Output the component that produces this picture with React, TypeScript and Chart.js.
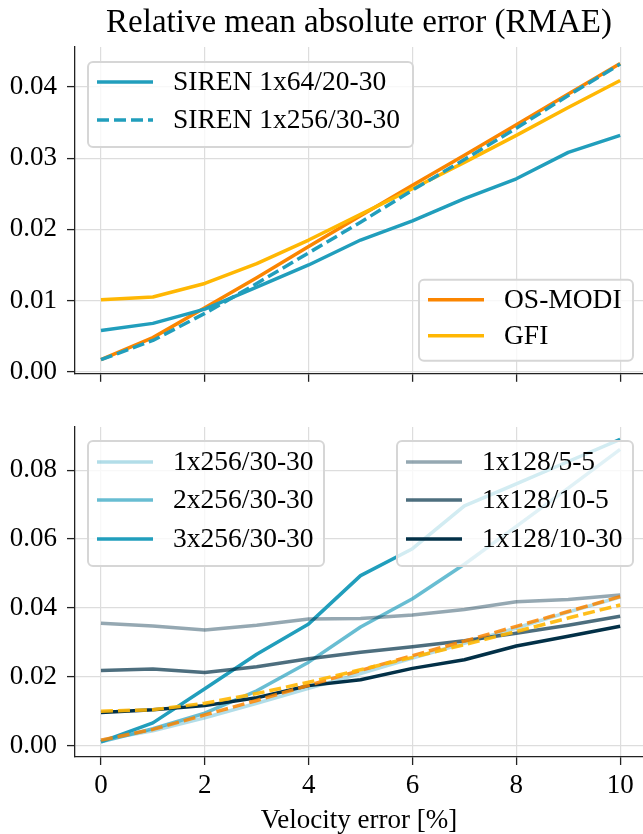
import React, { useEffect, useRef } from 'react';
import { Chart, registerables } from 'chart.js';

Chart.register(...registerables);

// ---------- data ----------
const velocityError = [0, 1, 2, 3, 4, 5, 6, 7, 8, 9, 10];
const xTicks = [0, 2, 4, 6, 8, 10];
const topYTicks = [0, 0.01, 0.02, 0.03, 0.04];
const bottomYTicks = [0, 0.02, 0.04, 0.06, 0.08];

const siren1x64 = [0.0058, 0.0068, 0.0088, 0.0119, 0.015, 0.0185, 0.0212, 0.0243, 0.0271, 0.0308, 0.0332];
const siren1x256 = [0.0017, 0.0044, 0.0082, 0.0124, 0.0167, 0.021, 0.0255, 0.0298, 0.0342, 0.0388, 0.0432];
const osModi = [0.0017, 0.0048, 0.009, 0.0132, 0.0176, 0.0219, 0.0262, 0.0304, 0.0347, 0.039, 0.0433];
const gfi = [0.0101, 0.0105, 0.0124, 0.0152, 0.0185, 0.0221, 0.0257, 0.0294, 0.0332, 0.0371, 0.0409];

const siren2x256 = [0.0012, 0.005, 0.0095, 0.016, 0.0243, 0.0345, 0.0427, 0.0527, 0.0637, 0.0748, 0.086];
const siren3x256 = [0.0012, 0.0067, 0.0166, 0.0266, 0.0354, 0.0494, 0.0572, 0.0696, 0.076, 0.0825, 0.0889];
const siren1x128_5_5 = [0.0356, 0.0348, 0.0336, 0.035, 0.0368, 0.037, 0.038, 0.0396, 0.0418, 0.0425, 0.0438];
const siren1x128_10_5 = [0.0219, 0.0223, 0.0213, 0.023, 0.0253, 0.0272, 0.0288, 0.0305, 0.0327, 0.035, 0.0376];
const siren1x128_10_30 = [0.0097, 0.0105, 0.0117, 0.014, 0.0175, 0.0192, 0.0225, 0.025, 0.029, 0.0318, 0.0347];

const titleText = 'Relative mean absolute error (RMAE)';
const xLabelText = 'Velocity error [%]';

// ---------- styles ----------
const FONT = '"Liberation Serif", "Times New Roman", serif';
const TEAL = '#219ebc';
const TEAL_35 = 'rgba(33,158,188,0.35)';
const TEAL_66 = 'rgba(33,158,188,0.68)';
const NAVY_40 = 'rgba(2,48,71,0.42)';
const NAVY_70 = 'rgba(2,48,71,0.7)';
const NAVY = '#023047';
const ORANGE = '#fb8500';
const YELLOW = '#ffb703';
const DASH = [12, 5];
const LW = 3.5;

const pts = (ys: number[]) => velocityError.map((x, i) => ({ x, y: ys[i] }));

const line = (data: number[], color: string, dash?: number[]) => ({
  data: pts(data),
  borderColor: color,
  backgroundColor: color,
  borderWidth: LW,
  borderDash: dash || [],
  pointRadius: 0,
  tension: 0,
  fill: false,
  borderCapStyle: 'butt',
  borderJoinStyle: 'round',
});

type LegendItem = { label: string; color: string; dash?: number[] };
type LegendSpec = {
  anchor: 'tl' | 'tr' | 'br';
  w: number;
  h: number;
  rows: number[];
  items: LegendItem[];
};

function roundRect(ctx: CanvasRenderingContext2D, x: number, y: number, w: number, h: number, r: number) {
  ctx.beginPath();
  ctx.moveTo(x + r, y);
  ctx.lineTo(x + w - r, y);
  ctx.arcTo(x + w, y, x + w, y + r, r);
  ctx.lineTo(x + w, y + h - r);
  ctx.arcTo(x + w, y + h, x + w - r, y + h, r);
  ctx.lineTo(x + r, y + h);
  ctx.arcTo(x, y + h, x, y + h - r, r);
  ctx.lineTo(x, y + r);
  ctx.arcTo(x, y, x + r, y, r);
  ctx.closePath();
}

function decorPlugin(legends: LegendSpec[], title: string | null, xLabel: string | null) {
  return {
    id: 'decor',
    afterDraw(chart: any) {
      const ctx: CanvasRenderingContext2D = chart.ctx;
      const ca = chart.chartArea;
      ctx.save();
      for (const lg of legends) {
        const x = lg.anchor === 'tl' ? ca.left + 13 : ca.right - 10 - lg.w;
        const y = lg.anchor === 'br' ? ca.bottom - 13 - lg.h : ca.top + (lg.anchor === 'tl' && lg.items.length === 2 ? 15 : 14);
        roundRect(ctx, x, y, lg.w, lg.h, 5);
        ctx.fillStyle = 'rgba(255,255,255,0.8)';
        ctx.fill();
        ctx.lineWidth = 2;
        ctx.strokeStyle = '#d6d6d6';
        ctx.stroke();
        lg.items.forEach((it, i) => {
          const ry = y + lg.rows[i];
          ctx.beginPath();
          ctx.setLineDash(it.dash || []);
          ctx.strokeStyle = it.color;
          ctx.lineWidth = LW;
          ctx.lineCap = 'butt';
          ctx.moveTo(x + 9, ry);
          ctx.lineTo(x + 65, ry);
          ctx.stroke();
          ctx.setLineDash([]);
          ctx.fillStyle = '#000';
          ctx.font = `27.5px ${FONT}`;
          ctx.textAlign = 'left';
          ctx.textBaseline = 'middle';
          ctx.fillText(it.label, x + 85, ry + 1);
        });
      }
      const cx = (ca.left + ca.right) / 2;
      if (title) {
        ctx.fillStyle = '#000';
        ctx.font = `33px ${FONT}`;
        ctx.textAlign = 'center';
        ctx.textBaseline = 'alphabetic';
        ctx.fillText(title, cx, 32);
      }
      if (xLabel) {
        ctx.fillStyle = '#000';
        ctx.font = `27px ${FONT}`;
        ctx.textAlign = 'center';
        ctx.textBaseline = 'alphabetic';
        ctx.fillText(xLabel, cx, chart.height - 6);
      }
      ctx.restore();
    },
  };
}

function makeOptions(o: {
  padTop: number;
  xHeight: number;
  showXLabels: boolean;
  yMin: number;
  yMax: number;
  yTicks: number[];
}) {
  return {
    responsive: false,
    animation: false,
    events: [],
    layout: { padding: { top: o.padTop, left: 0, right: 0, bottom: 0 } },
    plugins: { legend: { display: false }, title: { display: false }, tooltip: { enabled: false } },
    scales: {
      x: {
        type: 'linear',
        min: -0.5,
        max: 10.44,
        afterBuildTicks: (s: any) => {
          s.ticks = xTicks.map((v) => ({ value: v }));
        },
        afterFit: (s: any) => {
          s.height = o.xHeight;
        },
        ticks: {
          display: o.showXLabels,
          autoSkip: false,
          maxRotation: 0,
          padding: 5,
          color: '#000',
          font: { family: FONT, size: 27 },
          callback: (v: any) => String(v),
        },
        grid: { color: '#dddddd', lineWidth: 1.2, tickColor: '#222', tickLength: 8, tickWidth: 1.3, drawTicks: true },
        border: { display: true, color: '#222', width: 1.3 },
      },
      y: {
        type: 'linear',
        min: o.yMin,
        max: o.yMax,
        afterBuildTicks: (s: any) => {
          s.ticks = o.yTicks.map((v) => ({ value: v }));
        },
        afterFit: (s: any) => {
          s.width = 75;
        },
        ticks: {
          autoSkip: false,
          padding: 10,
          color: '#000',
          font: { family: FONT, size: 27 },
          callback: (v: any) => Number(v).toFixed(2),
        },
        grid: { color: '#dddddd', lineWidth: 1.2, tickColor: '#222', tickLength: 8, tickWidth: 1.3, drawTicks: true },
        border: { display: true, color: '#222', width: 1.3 },
      },
    },
  };
}

export default function App() {
  const topRef = useRef<HTMLCanvasElement>(null);
  const botRef = useRef<HTMLCanvasElement>(null);

  useEffect(() => {
    Chart.defaults.font.family = FONT;

    const topChart = new Chart(topRef.current as HTMLCanvasElement, {
      type: 'line',
      data: {
        datasets: [
          line(siren1x256, TEAL, DASH),
          line(siren1x64, TEAL),
          line(gfi, YELLOW),
          line(osModi, ORANGE),
        ] as any,
      },
      options: makeOptions({
        padTop: 47,
        xHeight: 23,
        showXLabels: false,
        yMin: -0.00028,
        yMax: 0.0456,
        yTicks: topYTicks,
      }) as any,
      plugins: [
        decorPlugin(
          [
            {
              anchor: 'tl',
              w: 325,
              h: 85,
              rows: [20, 58],
              items: [
                { label: 'SIREN 1x64/20-30', color: TEAL },
                { label: 'SIREN 1x256/30-30', color: TEAL, dash: DASH },
              ],
            },
            {
              anchor: 'br',
              w: 214,
              h: 81,
              rows: [20, 56],
              items: [
                { label: 'OS-MODI', color: ORANGE },
                { label: 'GFI', color: YELLOW },
              ],
            },
          ],
          titleText,
          null
        ) as any,
      ],
    });

    const botChart = new Chart(botRef.current as HTMLCanvasElement, {
      type: 'line',
      data: {
        datasets: [
          line(gfi, 'rgba(255,183,3,0.9)', DASH),
          line(osModi, 'rgba(251,133,0,0.85)', DASH),
          line(siren1x128_10_30, NAVY),
          line(siren1x128_10_5, NAVY_70),
          line(siren1x128_5_5, NAVY_40),
          line(siren3x256, TEAL),
          line(siren2x256, TEAL_66),
          line(siren1x256, TEAL_35),
        ] as any,
      },
      options: makeOptions({
        padTop: 27,
        xHeight: 77,
        showXLabels: true,
        yMin: -0.0032,
        yMax: 0.0925,
        yTicks: bottomYTicks,
      }) as any,
      plugins: [
        decorPlugin(
          [
            {
              anchor: 'tl',
              w: 236,
              h: 125,
              rows: [21, 59, 98],
              items: [
                { label: '1x256/30-30', color: TEAL_35 },
                { label: '2x256/30-30', color: TEAL_66 },
                { label: '3x256/30-30', color: TEAL },
              ],
            },
            {
              anchor: 'tr',
              w: 236,
              h: 125,
              rows: [21, 59, 98],
              items: [
                { label: '1x128/5-5', color: NAVY_40 },
                { label: '1x128/10-5', color: NAVY_70 },
                { label: '1x128/10-30', color: NAVY },
              ],
            },
          ],
          null,
          xLabelText
        ) as any,
      ],
    });

    return () => {
      topChart.destroy();
      botChart.destroy();
    };
  }, []);

  return (
    <div
      style={{
        position: 'fixed',
        left: 0,
        top: 0,
        width: 643,
        height: 834,
        background: '#fff',
        overflow: 'hidden',
      }}
    >
      <canvas
        ref={topRef}
        width={643}
        height={400}
        style={{ position: 'absolute', left: 0, top: 0, width: 643, height: 400 }}
      />
      <canvas
        ref={botRef}
        width={643}
        height={434}
        style={{ position: 'absolute', left: 0, top: 400, width: 643, height: 434 }}
      />
    </div>
  );
}
